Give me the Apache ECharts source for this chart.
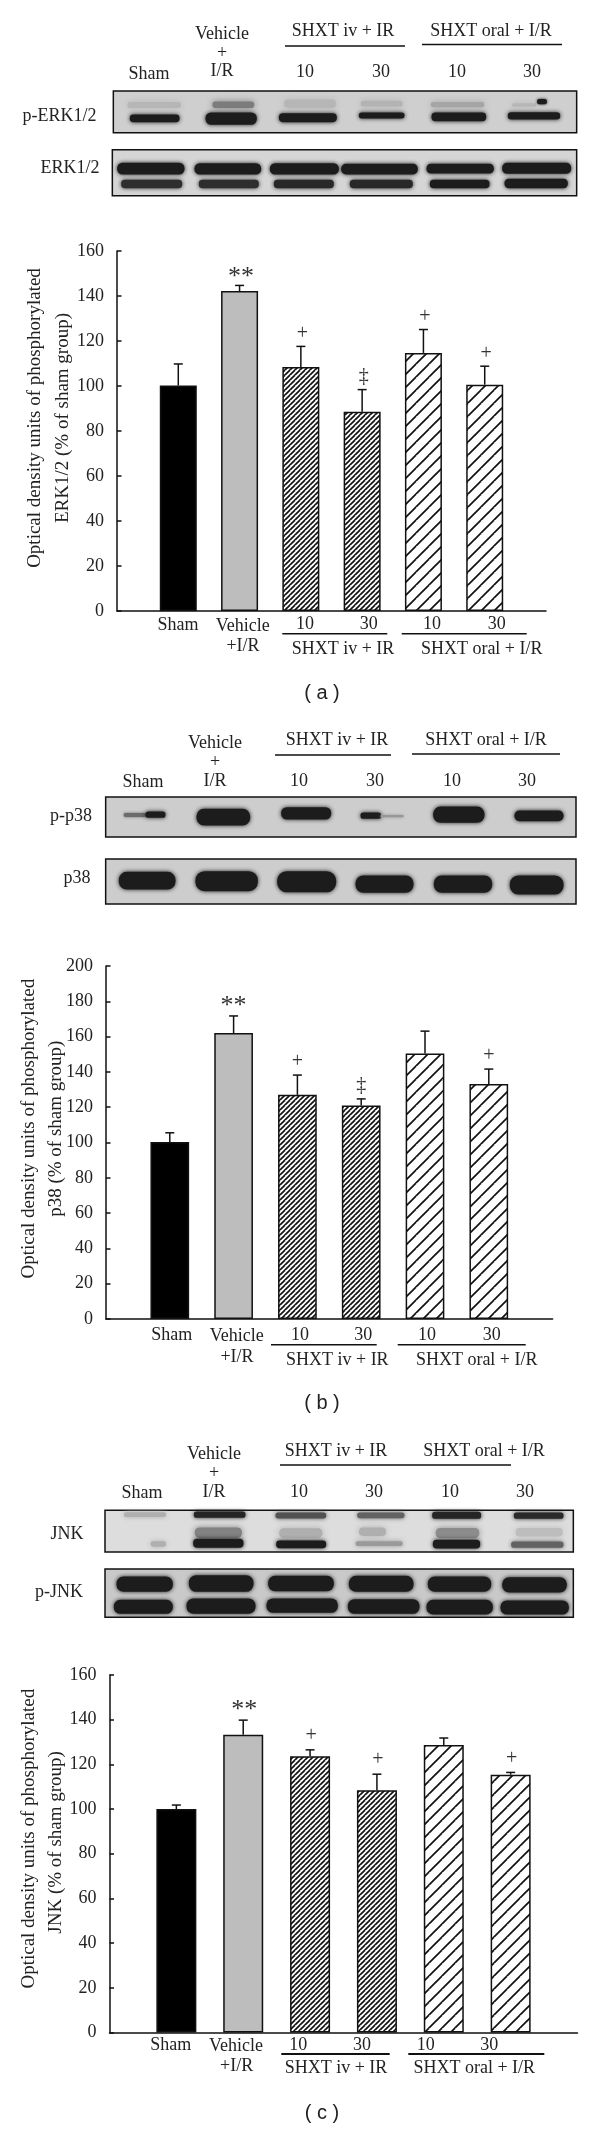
<!DOCTYPE html>
<html><head><meta charset="utf-8">
<style>html,body{margin:0;padding:0;background:#fff}#c{width:600px;height:2129px}</style>
<script src="https://cdn.jsdelivr.net/npm/echarts@6/dist/echarts.min.js"></script>
</head><body><div id="c"></div>
<script>
const categories = ['', 'Sham', 'Vehicle +I/R', 'SHXT iv + IR 10', 'SHXT iv + IR 30', 'SHXT oral + I/R 10', 'SHXT oral + I/R 30', ''];
const valuesA = [100.2, 142.2, 108.4, 88.6, 114.7, 100.6];
const errTopA = [109.8, 144.7, 117.6, 98.4, 125.1, 108.8];
const marksA  = ['', '**', '+', '‡', '+', '+'];
const valuesB = [100.3, 162, 127, 121, 150.4, 133.2];
const errTopB = [105.5, 171.7, 138.2, 124.7, 163.1, 141.6];
const marksB  = ['', '**', '+', '‡', '', '+'];
const valuesC = [100, 133.3, 123.6, 108.4, 128.7, 115.4];
const errTopC = [101.8, 139.8, 126.5, 115.6, 131.8, 116.4];
const marksC  = ['', '**', '+', '+', '', '+'];

const SERIF = '"Liberation Serif", serif';
const SANS = '"Liberation Sans", sans-serif';
const INK = '#222';

function hatch(n, lw) {
  const c = document.createElement('canvas'); c.width = n; c.height = n;
  const g = c.getContext('2d');
  g.fillStyle = '#fff'; g.fillRect(0, 0, n, n);
  g.strokeStyle = '#111'; g.lineWidth = lw;
  [[-n, n, 0, 0], [0, n, n, 0], [0, 2 * n, 2 * n, 0]].forEach(function (s) {
    g.beginPath(); g.moveTo(s[0], s[1]); g.lineTo(s[2], s[3]); g.stroke();
  });
  return { image: c, repeat: 'repeat' };
}
const dense = hatch(5, 1.7), sparse = hatch(13, 1.7);
const fills = ['#000', '#bdbdbd', dense, dense, sparse, sparse];

const panels = [
  { grid: { left: 117, top: 251, width: 429, height: 360 }, max: 160, values: valuesA, err: errTopA, marks: marksA, barW: 37, gap: 12.5, dx: 1.5 },
  { grid: { left: 106, top: 966, width: 446.6, height: 353 }, max: 200, values: valuesB, err: errTopB, marks: marksB, barW: 38.7, gap: 13.5, dx: 0 },
  { grid: { left: 109.5, top: 1675, width: 468, height: 357.5 }, max: 160, values: valuesC, err: errTopC, marks: marksC, barW: 40, gap: 14, dx: 1 }
];

const g = [];
function T(x, y, s, o) {
  o = o || {};
  g.push({ type: 'text', silent: true, x: x, y: y, rotation: o.rot || 0, z: 10,
    style: { text: s, fill: o.fill || INK, font: (o.size || 18) + 'px ' + (o.family || SERIF), align: 'center', verticalAlign: 'middle' } });
}
function L(x0, x1, y, w) {
  g.push({ type: 'line', silent: true, z: 10, shape: { x1: x0, y1: y, x2: x1, y2: y }, style: { stroke: '#111', lineWidth: w || 1.5 } });
}
/* a blot strip: zoomed coordinates (3x) relative to an origin */
function blot(oy, fr, bg, bands) {
  const X = function (v) { return 100 + v / 3; }, Y = function (v) { return oy + v / 3; };
  g.push({ type: 'rect', silent: true, z: 5, shape: { x: X(fr[0]), y: Y(fr[1]), width: (fr[2] - fr[0]) / 3, height: (fr[3] - fr[1]) / 3 },
    style: { fill: bg, stroke: '#111', lineWidth: 1.5 } });
  bands.forEach(function (b) {
    const a = b[4] === undefined ? 1 : b[4], v = Math.round(28 + (1 - a) * 175);
    const col = 'rgb(' + v + ',' + v + ',' + v + ')';
    const blur = b[5] === undefined ? 4 : b[5];
    const hh = (b[3] - b[2]) / 3;
    const ins = Math.min(blur * 0.12, hh * 0.12);
    const w = (b[1] - b[0]) / 3 - 2 * ins, h = hh - 2 * ins;
    g.push({ type: 'rect', silent: true, z: 6, shape: { x: X(b[0]) + ins, y: Y(b[2]) + ins, width: w, height: h, r: h * 0.45 },
      style: { fill: col, shadowColor: col, shadowBlur: blur } });
  });
}

// (a)
T(222, 34, 'Vehicle'); T(222, 53, '+'); T(222, 71, 'I/R'); T(149, 74, 'Sham');
T(343, 31, 'SHXT iv + IR'); L(285, 405, 46); T(491, 31, 'SHXT oral + I/R'); L(422, 562, 44.5);
T(305, 72, '10'); T(381, 72, '30'); T(457, 72, '10'); T(532, 72, '30');
T(59.5, 116, 'p-ERK1/2'); T(70, 168, 'ERK1/2');
blot(0, [40, 273, 1430, 398], '#cfcfcf', [
  [80, 245, 304, 326, .12, 6], [335, 465, 302, 326, .45, 6], [550, 710, 296, 326, .12, 6], [780, 910, 300, 322, .14, 6], [990, 1155, 304, 324, .22, 6], [1235, 1310, 308, 322, .12, 5], [1310, 1342, 296, 314, 1, 3],
  [88, 240, 342, 368], [315, 472, 336, 376], [535, 712, 338, 368], [775, 915, 336, 357], [993, 1160, 336, 365], [1222, 1382, 335, 360]
]);
blot(0, [37, 449, 1430, 587], '#d5d5d5', [
  [50, 255, 487, 525], [282, 485, 488, 525], [508, 718, 488, 525], [722, 955, 490, 525], [978, 1183, 490, 522], [1205, 1415, 487, 523],
  [62, 248, 538, 566, .9], [295, 478, 538, 566, .9], [520, 703, 538, 566, .93], [748, 940, 538, 566, .93], [988, 1170, 538, 566], [1212, 1405, 535, 566]
]);
T(178, 625, 'Sham'); T(242.7, 626.7, 'Vehicle'); T(243, 646.7, '+I/R');
T(305, 624, '10'); T(368.7, 624, '30'); T(432, 624, '10'); T(496.7, 624, '30');
L(282.3, 387.3, 633.7); L(401.7, 526.7, 633.7);
T(343, 649, 'SHXT iv + IR'); T(481.7, 649, 'SHXT oral + I/R');
T(35, 418, 'Optical density units of phosphorylated', { rot: Math.PI / 2, size: 19 });
T(63, 418, 'ERK1/2 (% of sham group)', { rot: Math.PI / 2, size: 19 });
T(322, 693, '( a )', { family: SANS, size: 20 });

// (b)
T(215, 743, 'Vehicle'); T(215, 762, '+'); T(215, 781, 'I/R'); T(143, 782, 'Sham');
T(337, 740, 'SHXT iv + IR'); L(275, 391, 755); T(486, 740, 'SHXT oral + I/R'); L(412, 560, 754);
T(299, 781, '10'); T(375, 781, '30'); T(452, 781, '10'); T(527, 781, '30');
T(71, 816.6, 'p-p38'); T(77, 878, 'p38');
blot(720, [17, 231, 1428, 351], '#cdcdcd', [
  [70, 140, 278, 292, .55, 3], [135, 198, 273, 295], [288, 452, 265, 318], [542, 695, 260, 300],
  [780, 845, 276, 298], [840, 912, 284, 293, .3, 3], [998, 1155, 258, 310], [1242, 1392, 270, 305]
]);
blot(720, [17, 417, 1428, 552], '#cdcdcd', [
  [55, 228, 454, 510], [285, 475, 452, 515], [530, 710, 452, 518], [765, 942, 465, 520], [1000, 1178, 465, 520], [1228, 1392, 465, 525]
]);
T(171.7, 1335.7, 'Sham'); T(236.7, 1336.7, 'Vehicle'); T(237, 1357, '+I/R');
T(300, 1335, '10'); T(363.3, 1335, '30'); T(427, 1335, '10'); T(491.7, 1335, '30');
L(271, 376.7, 1344.7); L(397.7, 525.7, 1344.7);
T(337.3, 1360, 'SHXT iv + IR'); T(476.7, 1360, 'SHXT oral + I/R');
T(29, 1128.7, 'Optical density units of phosphorylated', { rot: Math.PI / 2, size: 19 });
T(56, 1128.7, 'p38 (% of sham group)', { rot: Math.PI / 2, size: 19 });
T(322, 1403.7, '( b )', { family: SANS, size: 20 });

// (c)
T(214, 1454, 'Vehicle'); T(214, 1473, '+'); T(214, 1492, 'I/R'); T(142, 1493, 'Sham');
T(336, 1451, 'SHXT iv + IR'); L(280, 511, 1465); T(484, 1451, 'SHXT oral + I/R');
T(299, 1492, '10'); T(374, 1492, '30'); T(450, 1492, '10'); T(525, 1492, '30');
T(67, 1534, 'JNK'); T(59, 1592.7, 'p-JNK');
blot(1430, [15, 241, 1420, 366], '#dddddd', [
  [70, 200, 245, 263, .16, 5], [280, 438, 243, 265, .95], [525, 680, 246, 267, .7], [770, 915, 246, 266, .6], [995, 1145, 244, 268, .95], [1240, 1392, 246, 268, .92],
  [282, 428, 290, 326, .42, 6], [535, 670, 292, 326, .16, 7], [775, 860, 290, 320, .16, 6], [1005, 1140, 292, 326, .36, 6], [1245, 1390, 292, 322, .08, 6],
  [150, 200, 332, 352, .16, 5], [278, 432, 325, 355], [527, 680, 330, 356], [765, 910, 332, 350, .28, 5], [997, 1142, 328, 357], [1232, 1392, 333, 355, .6, 4]
]);
blot(1430, [15, 417, 1420, 562], '#c9c9c9', [
  [48, 220, 438, 487], [265, 462, 434, 487], [503, 703, 436, 485], [745, 942, 436, 487], [982, 1175, 438, 487], [1205, 1402, 440, 489],
  [40, 220, 508, 553], [258, 468, 504, 553], [498, 715, 504, 550], [742, 960, 506, 553], [978, 1180, 508, 555], [1200, 1408, 510, 555]
]);
T(170.7, 2045, 'Sham'); T(236, 2046.3, 'Vehicle'); T(236.7, 2066.7, '+I/R');
T(298.3, 2045, '10'); T(362, 2045, '30'); T(425.7, 2045, '10'); T(489.3, 2045, '30');
L(281.3, 389.7, 2054, 2); L(408.3, 544.3, 2054, 2);
T(336, 2068.3, 'SHXT iv + IR'); T(474.3, 2068.3, 'SHXT oral + I/R');
T(29, 1838.7, 'Optical density units of phosphorylated', { rot: Math.PI / 2, size: 19 });
T(56, 1842.4, 'JNK (% of sham group)', { rot: Math.PI / 2, size: 19 });
T(322, 2113.3, '( c )', { family: SANS, size: 20 });

const option = {
  animation: false, backgroundColor: '#fff',
  grid: panels.map(function (p) { return p.grid; }),
  xAxis: panels.map(function (p, i) {
    return { type: 'category', gridIndex: i, data: categories, boundaryGap: false,
      axisLine: { lineStyle: { color: '#111', width: 1.5 } }, axisTick: { show: false }, axisLabel: { show: false } };
  }),
  yAxis: panels.map(function (p, i) {
    return { type: 'value', gridIndex: i, min: 0, max: p.max, interval: 20,
      axisLine: { show: true, lineStyle: { color: '#111', width: 1.5 } },
      axisTick: { show: true, inside: true, length: 4.5, lineStyle: { color: '#111', width: 1.5 } },
      axisLabel: { fontFamily: SERIF, fontSize: 18, color: INK, margin: 13 },
      splitLine: { show: false } };
  }),
  series: [],
  graphic: { elements: g }
};
panels.forEach(function (p, i) {
  option.series.push({ type: 'custom', xAxisIndex: i, yAxisIndex: i, z: 1, silent: true,
    data: p.err.map(function (e, k) { return [k + 1, e]; }),
    renderItem: function (params, api) {
      const idx = params.dataIndex;
      const top = api.coord([api.value(0), p.err[idx]]);
      const base = api.coord([api.value(0), p.values[idx]]);
      const st = { stroke: '#111', lineWidth: 1.5 };
      const kids = [
        { type: 'line', shape: { x1: top[0], y1: top[1], x2: base[0], y2: base[1] }, style: st },
        { type: 'line', shape: { x1: top[0] - 4.5, y1: top[1], x2: top[0] + 4.5, y2: top[1] }, style: st }
      ];
      const m = p.marks[idx];
      if (m) kids.push({ type: 'text', x: top[0] + p.dx, y: top[1] - p.gap + (m === '**' ? 4 : 0),
        style: { text: m, fill: '#333', font: (m === '**' ? 26 : 20) + 'px ' + SERIF, align: 'center', verticalAlign: 'middle' } });
      return { type: 'group', children: kids };
    }
  });
  option.series.push({ type: 'bar', xAxisIndex: i, yAxisIndex: i, z: 2, barWidth: p.barW, silent: true,
    data: [null].concat(p.values.map(function (v, k) {
      return { value: v, itemStyle: { color: fills[k], borderColor: '#111', borderWidth: 1.5 } };
    })).concat([null])
  });
});
const chart = echarts.init(document.getElementById('c'), null, { renderer: 'canvas', width: 600, height: 2129 });
chart.setOption(option);
</script></body></html>
